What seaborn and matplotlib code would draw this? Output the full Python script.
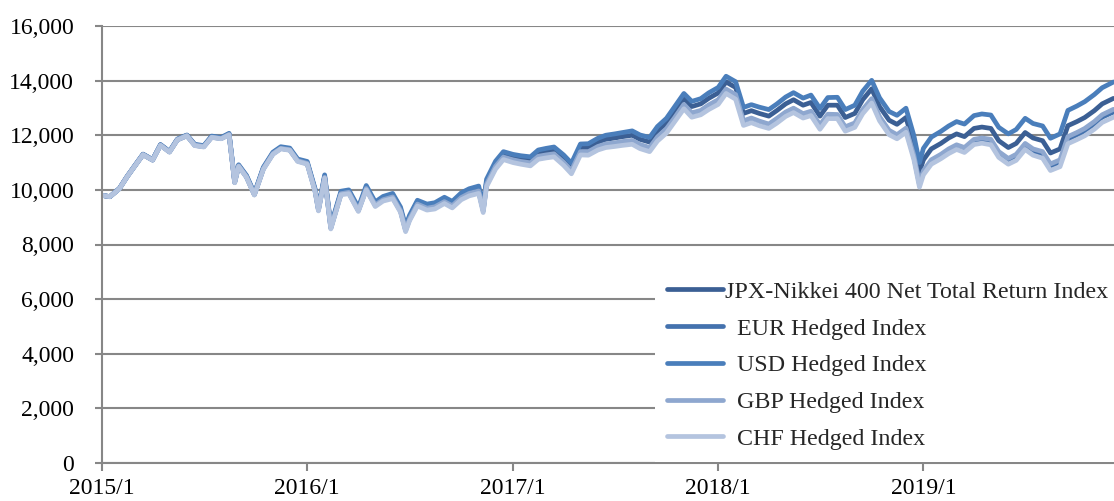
import matplotlib
matplotlib.use("Agg")
import matplotlib.pyplot as plt
import seaborn as sns
import pandas as pd
from matplotlib.ticker import FuncFormatter, MultipleLocator

# ---------------- data ----------------
dates = [
    # 2015
    "2015-01-01", "2015-01-15", "2015-02-01", "2015-02-15", "2015-03-01", "2015-03-15",
    "2015-04-01", "2015-04-15", "2015-05-01", "2015-05-15", "2015-06-01", "2015-06-15",
    "2015-07-01", "2015-07-15", "2015-08-01", "2015-08-15", "2015-08-25", "2015-09-01",
    "2015-09-15", "2015-09-29", "2015-10-15", "2015-11-01", "2015-11-15", "2015-12-01",
    "2015-12-15",
    # 2016
    "2016-01-01", "2016-01-15", "2016-01-21", "2016-02-01", "2016-02-12", "2016-03-01",
    "2016-03-15", "2016-04-01", "2016-04-15", "2016-05-01", "2016-05-15", "2016-06-01",
    "2016-06-15", "2016-06-24", "2016-07-01", "2016-07-15", "2016-08-01", "2016-08-15",
    "2016-09-01", "2016-09-15", "2016-10-01", "2016-10-15", "2016-11-01", "2016-11-09",
    "2016-11-15", "2016-12-01", "2016-12-15",
    # 2017
    "2017-01-01", "2017-01-15", "2017-02-01", "2017-02-15", "2017-03-01", "2017-03-15",
    "2017-04-01", "2017-04-15", "2017-05-01", "2017-05-15", "2017-06-01", "2017-06-15",
    "2017-07-01", "2017-07-15", "2017-08-01", "2017-08-15", "2017-09-01", "2017-09-15",
    "2017-10-01", "2017-10-15", "2017-11-01", "2017-11-15", "2017-12-01", "2017-12-15",
    # 2018
    "2018-01-01", "2018-01-15", "2018-02-01", "2018-02-15", "2018-03-01", "2018-03-15",
    "2018-04-01", "2018-04-15", "2018-05-01", "2018-05-15", "2018-06-01", "2018-06-15",
    "2018-07-01", "2018-07-15", "2018-08-01", "2018-08-15", "2018-09-01", "2018-09-15",
    "2018-10-01", "2018-10-15", "2018-11-01", "2018-11-15", "2018-12-01", "2018-12-15",
    "2018-12-25",
    # 2019
    "2019-01-01", "2019-01-15", "2019-02-01", "2019-02-15", "2019-03-01", "2019-03-15",
    "2019-04-01", "2019-04-15", "2019-05-01", "2019-05-15", "2019-06-01", "2019-06-15",
    "2019-07-01", "2019-07-15", "2019-08-01", "2019-08-15", "2019-09-01", "2019-09-15",
    "2019-10-01", "2019-10-15", "2019-11-01", "2019-11-15", "2019-12-05",
]

jpx = [
    9800, 9750, 10050, 10500, 10900, 11300, 11100, 11650, 11400, 11850, 12000, 11650,
    11600, 11950, 11900, 12050, 10300, 10900, 10500, 9850, 10800, 11350, 11550, 11500, 11100,
    11000, 10000, 9300, 10500, 8650, 9900, 9950, 9300, 10100, 9500, 9700, 9800, 9300, 8600,
    9000, 9550, 9400, 9450, 9650, 9500, 9800, 9950, 10050, 9350, 10300, 10950, 11300,
    11200, 11150, 11100, 11350, 11400, 11450, 11150, 10850, 11550, 11550, 11750, 11850,
    11900, 11950, 12000, 11850, 11750, 12150, 12450, 12850, 13350, 13050, 13150, 13350,
    13550, 13950, 13750, 12800, 12900, 12800, 12700, 12900, 13150, 13300, 13100, 13200,
    12700, 13100, 13100, 12650, 12800, 13300, 13700, 13050, 12550, 12400, 12650, 11650, 10650,
    11100, 11500, 11700, 11900, 12050, 11950, 12250, 12300, 12250, 11800, 11550, 11700,
    12100, 11900, 11800, 11350, 11500, 12350, 12500, 12650, 12900, 13150, 13350,
]

eur = [
    9800, 9750, 10050, 10490, 10890, 11290, 11090, 11640, 11390, 11830, 11980, 11630,
    11580, 11930, 11880, 12030, 10270, 10870, 10470, 9820, 10770, 11320, 11520, 11460, 11060,
    10960, 9960, 9260, 10450, 8600, 9850, 9890, 9240, 10030, 9430, 9630, 9720, 9220, 8520,
    8920, 9460, 9310, 9350, 9550, 9400, 9690, 9840, 9940, 9230, 10180, 10830, 11170,
    11070, 11010, 10960, 11200, 11250, 11290, 10980, 10680, 11370, 11360, 11560, 11650,
    11700, 11740, 11780, 11630, 11520, 11910, 12210, 12600, 13100, 12790, 12880, 13080,
    13270, 13660, 13460, 12500, 12590, 12490, 12380, 12570, 12810, 12960, 12750, 12840,
    12340, 12730, 12720, 12270, 12410, 12900, 13290, 12640, 12130, 11970, 12210, 11210, 10200,
    10650, 11050, 11250, 11440, 11590, 11490, 11790, 11840, 11780, 11330, 11080, 11230,
    11620, 11420, 11320, 10870, 11020, 11860, 12010, 12160, 12410, 12660, 12850,
]

usd = [
    9800, 9750, 10050, 10500, 10910, 11310, 11110, 11660, 11410, 11860, 12010, 11670,
    11620, 11970, 11920, 12070, 10320, 10920, 10530, 9880, 10830, 11380, 11580, 11530, 11130,
    11040, 10040, 9340, 10550, 8700, 9950, 10000, 9360, 10160, 9560, 9760, 9870, 9370, 8670,
    9070, 9620, 9480, 9530, 9730, 9580, 9890, 10040, 10140, 9440, 10390, 11050, 11400,
    11300, 11250, 11210, 11460, 11520, 11570, 11280, 10980, 11680, 11690, 11890, 12000,
    12050, 12100, 12160, 12010, 11920, 12320, 12620, 13030, 13530, 13240, 13340, 13550,
    13750, 14160, 13960, 13020, 13120, 13030, 12940, 13140, 13400, 13560, 13360, 13470,
    12980, 13380, 13390, 12940, 13100, 13610, 14010, 13370, 12870, 12730, 12990, 11990, 11000,
    11520, 11930, 12140, 12340, 12500, 12410, 12720, 12780, 12740, 12290, 12050, 12210,
    12620, 12430, 12340, 11890, 12050, 12910, 13070, 13230, 13490, 13740, 13950,
]

gbp = [
    9800, 9750, 10050, 10500, 10900, 11290, 11090, 11640, 11390, 11840, 11990, 11640,
    11590, 11930, 11880, 12030, 10280, 10880, 10480, 9830, 10780, 11330, 11520, 11470, 11070,
    10970, 9970, 9270, 10460, 8610, 9860, 9910, 9250, 10050, 9450, 9640, 9740, 9240, 8540,
    8940, 9480, 9330, 9380, 9570, 9420, 9720, 9870, 9960, 9260, 10210, 10860, 11200,
    11100, 11040, 10990, 11230, 11280, 11320, 11010, 10710, 11400, 11400, 11590, 11680,
    11720, 11770, 11810, 11660, 11550, 11940, 12240, 12630, 13130, 12820, 12910, 13110,
    13300, 13690, 13490, 12530, 12630, 12520, 12410, 12610, 12850, 12990, 12790, 12880,
    12380, 12770, 12760, 12310, 12450, 12940, 13340, 12680, 12180, 12020, 12260, 11260, 10250,
    10700, 11100, 11300, 11500, 11650, 11550, 11850, 11900, 11850, 11400, 11150, 11300,
    11700, 11500, 11400, 10950, 11100, 11950, 12100, 12250, 12500, 12750, 12950,
]

chf = [
    9800, 9750, 10040, 10490, 10890, 11290, 11090, 11630, 11380, 11830, 11980, 11620,
    11570, 11920, 11870, 12010, 10260, 10860, 10460, 9810, 10750, 11300, 11500, 11450, 11040,
    10940, 9930, 9230, 10430, 8570, 9820, 9860, 9210, 10000, 9390, 9590, 9680, 9180, 8470,
    8870, 9410, 9260, 9300, 9500, 9340, 9640, 9780, 9870, 9170, 10120, 10760, 11110,
    11000, 10940, 10880, 11120, 11170, 11210, 10900, 10590, 11280, 11270, 11460, 11550,
    11590, 11630, 11670, 11510, 11400, 11790, 12080, 12480, 12970, 12660, 12750, 12940,
    13130, 13530, 13320, 12360, 12460, 12350, 12250, 12440, 12690, 12830, 12630, 12720,
    12220, 12610, 12610, 12150, 12290, 12790, 13180, 12530, 12020, 11870, 12110, 11110, 10100,
    10550, 10940, 11140, 11330, 11480, 11370, 11660, 11710, 11650, 11190, 10940, 11080,
    11480, 11270, 11160, 10710, 10850, 11690, 11840, 11980, 12220, 12470, 12660,
]

series_labels = [
    "JPX-Nikkei 400 Net Total Return Index",
    "  EUR Hedged Index",
    "  USD Hedged Index",
    "  GBP Hedged Index",
    "  CHF Hedged Index",
]
series_values = [jpx, eur, usd, gbp, chf]
series_colors = ["#3B5F94", "#4472AE", "#4A7EBB", "#8EA7CF", "#B4C4DF"]

year_ticks = ["2015-01-01", "2016-01-01", "2017-01-01", "2018-01-01", "2019-01-01"]
year_tick_labels = ["2015/1", "2016/1", "2017/1", "2018/1", "2019/1"]

# ---------------- build long table ----------------
frames = []
for lab, vals in zip(series_labels, series_values):
    frames.append(pd.DataFrame({"date": pd.to_datetime(dates), "value": vals, "series": lab}))
long_df = pd.concat(frames, ignore_index=True)

# ---------------- plot ----------------
sns.set_style("white")
plt.rcParams["font.family"] = ["Liberation Serif", "DejaVu Serif"]

W, H = 1114, 501
fig = plt.figure(figsize=(W / 100, H / 100), dpi=100)
ax = fig.add_axes([102 / W, 38 / H, 1012 / W, 437 / H])

grid_c = "#878787"

sns.lineplot(
    data=long_df, x="date", y="value", hue="series",
    hue_order=series_labels, palette=dict(zip(series_labels, series_colors)),
    linewidth=3.4, estimator=None, sort=False, ax=ax, legend=True,
)

ax.set_xlim(pd.Timestamp("2015-01-01"), pd.Timestamp("2019-12-06"))
ax.set_ylim(0, 16000)
ax.yaxis.set_major_locator(MultipleLocator(2000))
ax.yaxis.set_major_formatter(FuncFormatter(lambda v, p: f"{v:,.0f}"))
ax.set_xticks(pd.to_datetime(year_ticks))
ax.set_xticklabels(year_tick_labels)
ax.set_xlabel("")
ax.set_ylabel("")

ax.yaxis.grid(True, color=grid_c, linewidth=1.5)
ax.xaxis.grid(False)
ax.set_axisbelow(True)

for s in ["top", "right"]:
    ax.spines[s].set_visible(False)
for s in ["left", "bottom"]:
    ax.spines[s].set_color(grid_c)
    ax.spines[s].set_linewidth(1.5)

ax.tick_params(axis="y", direction="out", length=5, width=1.5, color=grid_c,
               pad=15, labelsize=17, labelcolor="black", left=True)
ax.tick_params(axis="x", direction="out", length=6, width=1.5, color=grid_c,
               pad=5, labelsize=17, labelcolor="black", bottom=True)

handles, labels = ax.get_legend_handles_labels()
leg = ax.legend(
    handles, labels, loc="lower right", bbox_to_anchor=(1.006, 0.003),
    frameon=True, facecolor="white", edgecolor="none", framealpha=1,
    fancybox=False, fontsize=17.3, handlelength=2.3, handletextpad=0.1,
    labelspacing=0.62, borderpad=0.5, borderaxespad=0,
)
for line in leg.get_lines():
    line.set_linewidth(3.4)

fig.savefig("out.png", dpi=100)
